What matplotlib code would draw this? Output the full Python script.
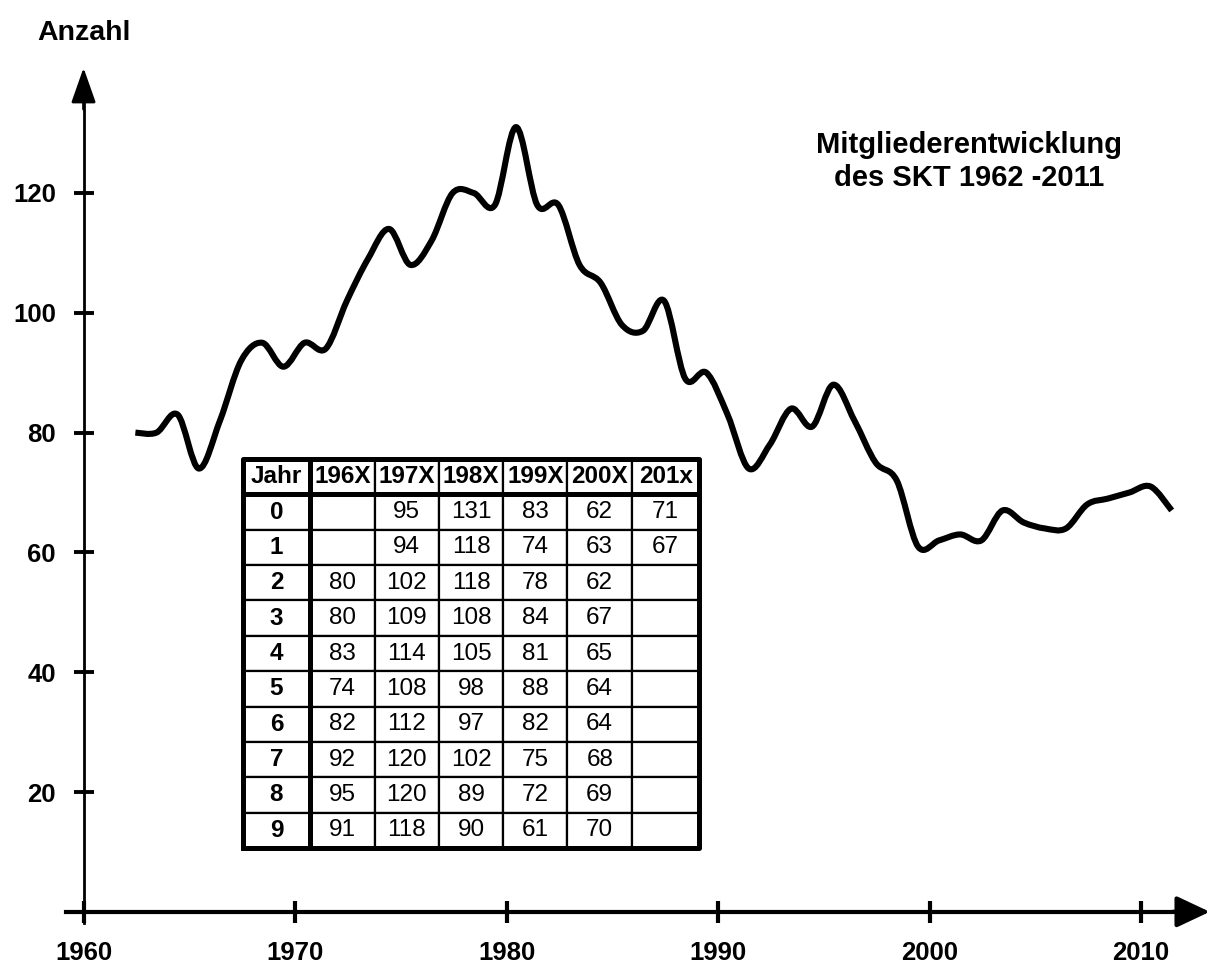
import numpy as np
import matplotlib
matplotlib.use("Agg")
import matplotlib.pyplot as plt
from matplotlib.path import Path
from matplotlib.patches import PathPatch

plt.rcParams["font.family"] = ["Liberation Sans", "DejaVu Sans"]

# Mitglieder je Jahr (aus der Tabelle), Zeilen = letzte Ziffer des Jahres
decades = ["196X", "197X", "198X", "199X", "200X", "201x"]
vals_196x = [None, None, 80, 80, 83, 74, 82, 92, 95, 91]
vals_197x = [95, 94, 102, 109, 114, 108, 112, 120, 120, 118]
vals_198x = [131, 118, 118, 108, 105, 98, 97, 102, 89, 90]
vals_199x = [83, 74, 78, 84, 81, 88, 82, 75, 72, 61]
vals_200x = [62, 63, 62, 67, 65, 64, 64, 68, 69, 70]
vals_201x = [71, 67]
x_ticks = [1960, 1970, 1980, 1990, 2000, 2010]
y_ticks = [20, 40, 60, 80, 100, 120]

columns = [vals_196x, vals_197x, vals_198x, vals_199x, vals_200x, vals_201x]
years, counts = [], []
for d, col in enumerate(columns):
    for i, v in enumerate(col):
        if v is not None:
            years.append(1960 + 10 * d + i)
            counts.append(v)
years = np.array(years, float)
counts = np.array(counts, float)

W, H = 1211, 963
fig = plt.figure(figsize=(W / 100, H / 100), dpi=100)
ax = fig.add_axes([0, 0, 1, 1])
ax.set_xlim(1956.05, 1956.05 + W / 21.15)
ax.set_ylim(-(H - 911.8) / 5.99, 911.8 / 5.99)

# smooth curve: Catmull-Rom through the points, drawn as cubic Bezier path
px = years + 0.45
py = counts
P = np.column_stack([px, py])
Pe = np.vstack([P[0], P, P[-1]])
verts = [tuple(P[0])]
codes = [Path.MOVETO]
for i in range(1, len(Pe) - 2):
    p0, p1, p2, p3 = Pe[i - 1], Pe[i], Pe[i + 1], Pe[i + 2]
    c1 = p1 + (p2 - p0) / 6.0
    c2 = p2 - (p3 - p1) / 6.0
    verts += [tuple(c1), tuple(c2), tuple(p2)]
    codes += [Path.CURVE4] * 3
ax.add_patch(PathPatch(Path(verts, codes), facecolor="none", edgecolor="black",
                       lw=4.4, capstyle="butt", joinstyle="round", zorder=3))

# axes with arrows
for s in ["top", "right"]:
    ax.spines[s].set_visible(False)
ax.spines["left"].set_position(("data", 1960))
ax.spines["bottom"].set_position(("data", 0))
ax.spines["left"].set_linewidth(2)
ax.spines["bottom"].set_linewidth(3)
ax.spines["left"].set_bounds(-1.8, 136)
ax.spines["bottom"].set_bounds(1959.15, 2012.0)
ax.annotate("", xy=(1960, 140.9), xytext=(1960, 134),
            arrowprops=dict(arrowstyle="-|>,head_length=1.08,head_width=0.38",
                            mutation_scale=20, lw=2, color="black", shrinkA=0, shrinkB=0))
ax.annotate("", xy=(2013.25, 0), xytext=(2011.5, 0),
            arrowprops=dict(arrowstyle="-|>,head_length=1.02,head_width=0.48",
                            mutation_scale=20, lw=3, color="black", shrinkA=0, shrinkB=0))

ax.set_xticks(x_ticks)
ax.set_xticklabels([str(t) for t in x_ticks], fontsize=18.5, fontweight="bold")
ax.set_yticks(y_ticks)
ax.set_yticklabels([str(t) for t in y_ticks], fontsize=18.5, fontweight="bold")
ax.tick_params(axis="x", direction="inout", length=16.5, width=3, pad=12.5)
ax.tick_params(axis="y", direction="inout", length=15, width=2.8, pad=12.5)

fig.text(84 / W, 1 - 40 / H, "Anzahl", ha="center", va="baseline",
         fontsize=20.5, fontweight="bold")
fig.text(969 / W, 1 - 153 / H, "Mitgliederentwicklung", ha="center", va="baseline",
         fontsize=21, fontweight="bold")
fig.text(969 / W, 1 - 186 / H, "des SKT 1962 -2011", ha="center", va="baseline",
         fontsize=21, fontweight="bold")

# table
cell_text = []
for r in range(10):
    row = [str(r)]
    for col in columns:
        v = col[r] if r < len(col) else None
        row.append("" if v is None else str(v))
    cell_text.append(row)
col_w = [67, 65, 64, 65, 64, 65, 67]
tx0, tx1, ty0, ty1 = 243, 699, 459, 848
bbox = [tx0 / W, 1 - ty1 / H, (tx1 - tx0) / W, (ty1 - ty0) / H]
tab = ax.table(cellText=cell_text, colLabels=["Jahr"] + decades,
               colWidths=[w / sum(col_w) for w in col_w],
               cellLoc="center", bbox=bbox, zorder=4)
tab.auto_set_font_size(False)
for (r, c), cell in tab.get_celld().items():
    cell.set_linewidth(1.6)
    cell.set_facecolor("white")
    cell.get_text().set_fontsize(17.5)
    if r == 0 or c == 0:
        cell.get_text().set_fontweight("bold")

# thick frame, header line, first column line
tr = ax.transAxes
bx0, by0, bw, bh = bbox
bx1, by1 = bx0 + bw, by0 + bh
hy = by1 - bh / 11
cx = bx0 + bw * col_w[0] / sum(col_w)
thick = dict(color="black", lw=3.6, transform=tr, zorder=6, solid_capstyle="projecting")
ax.plot([bx0, bx1, bx1, bx0, bx0], [by0, by0, by1, by1, by0], **thick)
ax.plot([bx0, bx1], [hy, hy], **thick)
ax.plot([cx, cx], [by0, by1], **thick)

fig.savefig("out.png", dpi=100)
plt.close(fig)
